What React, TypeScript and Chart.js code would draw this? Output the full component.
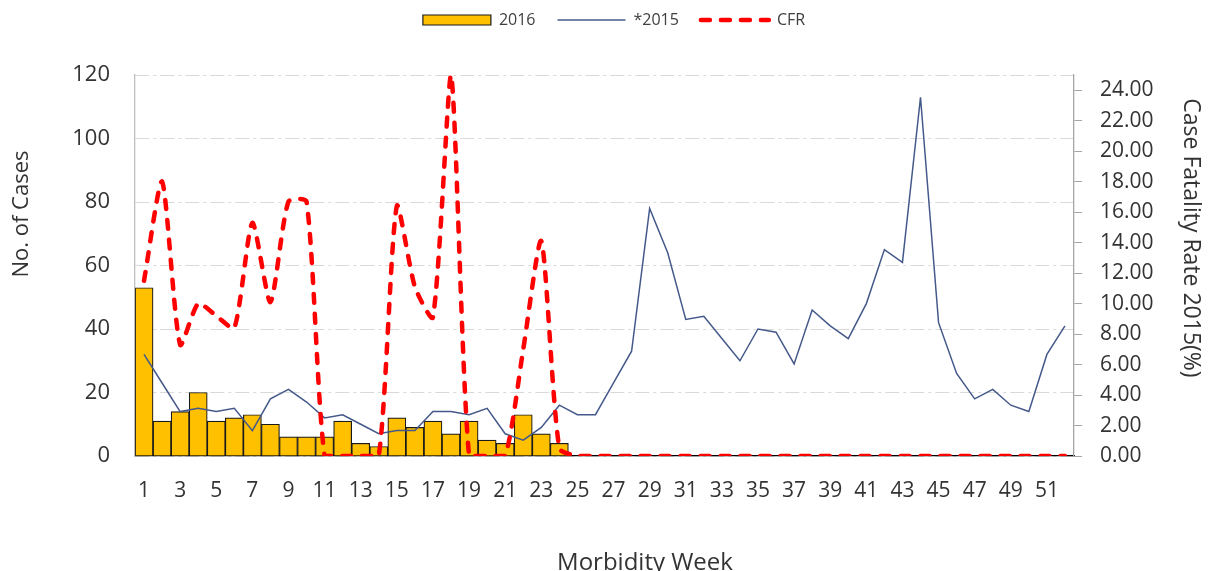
import React, { useEffect, useRef } from 'react';
import { Chart, registerables } from 'chart.js';

Chart.register(...registerables);

const weeks = ['1','2','3','4','5','6','7','8','9','10','11','12','13','14','15','16','17','18','19','20','21','22','23','24','25','26','27','28','29','30','31','32','33','34','35','36','37','38','39','40','41','42','43','44','45','46','47','48','49','50','51','52'];

const cases2016 = [53, 11, 14, 20, 11, 12, 13, 10, 6, 6, 6, 11, 4, 3, 12, 9, 11, 7, 11, 5, 4, 13, 7, 4,
  null, null, null, null, null, null, null, null, null, null, null, null, null, null, null, null, null, null, null, null, null, null, null, null, null, null, null, null];

const cases2015 = [32, 23, 14, 15, 14, 15, 8, 18, 21, 17, 12, 13, 10, 7, 8, 8, 14, 14, 13, 15, 7, 5, 9, 16, 13, 13,
  23, 33, 78, 64, 43, 44, 37, 30, 40, 39, 29, 46, 41, 37, 48, 65, 61, 113, 42, 26, 18, 21, 16, 14, 32, 41];

const cfr = [11.5, 18, 7.3, 10, 9.2, 8.4, 15.3, 10.1, 16.7, 16.7, 0, 0, 0, 0, 16.4, 11.1, 9.1, 25, 0, 0, 0, 7, 14.1, 0.5,
  0, 0, 0, 0, 0, 0, 0, 0, 0, 0, 0, 0, 0, 0, 0, 0, 0, 0, 0, 0, 0, 0, 0, 0, 0, 0, 0, 0];

const seriesNames = ['2016', '*2015', 'CFR'];
const leftTitle = 'No. of Cases';
const rightTitle = 'Case Fatality Rate 2015(%)';
const bottomTitle = 'Morbidity Week';

const FONT = '"Open Sans", "Noto Sans", sans-serif';
const TEXT = '#333333';
const CFR_DASH = [9, 11];

const titlesPlugin = {
  id: 'customAxisTitles',
  afterDraw(chart: any) {
    const { ctx } = chart;
    ctx.save();
    ctx.fillStyle = TEXT;
    ctx.textAlign = 'center';
    ctx.textBaseline = 'middle';
    ctx.font = `22px ${FONT}`;
    ctx.save();
    ctx.translate(22, 214);
    ctx.rotate(-Math.PI / 2);
    ctx.fillText(leftTitle, 0, 0);
    ctx.restore();
    ctx.font = `23px ${FONT}`;
    ctx.save();
    ctx.translate(1191, 238);
    ctx.rotate(Math.PI / 2);
    ctx.fillText(rightTitle, 0, 0);
    ctx.restore();
    ctx.font = `24px ${FONT}`;
    ctx.fillText(bottomTitle, 645, 563);
    ctx.restore();
  },
};

export default function App() {
  const ref = useRef<HTMLCanvasElement | null>(null);

  useEffect(() => {
    if (!ref.current) return;
    const chart = new Chart(ref.current, {
      type: 'bar',
      data: {
        labels: weeks,
        datasets: [
          {
            type: 'bar',
            label: seriesNames[0],
            data: cases2016 as any,
            backgroundColor: '#FFC000',
            borderColor: '#1a1a1a',
            borderWidth: 1.2,
            barPercentage: 1,
            categoryPercentage: 1,
            yAxisID: 'y',
            order: 3,
          },
          {
            type: 'line',
            label: seriesNames[1],
            data: cases2015,
            borderColor: '#44598a',
            backgroundColor: '#44598a',
            borderWidth: 1.5,
            pointRadius: 0,
            tension: 0,
            yAxisID: 'y',
            order: 2,
          },
          {
            type: 'line',
            label: seriesNames[2],
            data: cfr,
            borderColor: '#FF0000',
            backgroundColor: '#FF0000',
            borderWidth: 4.5,
            borderDash: CFR_DASH,
            borderCapStyle: 'round',
            pointRadius: 0,
            tension: 0.22,
            yAxisID: 'y1',
            order: 1,
          },
        ] as any,
      },
      options: {
        responsive: false,
        animation: false,
        layout: { padding: { top: -10, left: 18, right: 0, bottom: 0 } },
        plugins: {
          tooltip: { enabled: false },
          legend: {
            position: 'top',
            labels: {
              usePointStyle: true,
              pointStyleWidth: 68,
              boxWidth: 68,
              boxHeight: 10,
              padding: 22,
              color: '#404040',
              font: { family: FONT, size: 16 },
              sort: (a: any, b: any) => a.datasetIndex - b.datasetIndex,
              generateLabels: (c: any) => {
                const items = Chart.defaults.plugins.legend.labels.generateLabels(c);
                return items.map((it: any) => {
                  if (it.datasetIndex === 0) {
                    return { ...it, pointStyle: 'rect', fillStyle: '#FFC000', strokeStyle: '#1a1a1a', lineWidth: 1.2, lineDash: [] };
                  }
                  if (it.datasetIndex === 1) {
                    return { ...it, pointStyle: 'line', strokeStyle: '#44598a', lineWidth: 1.5, lineDash: [] };
                  }
                  return { ...it, pointStyle: 'line', strokeStyle: '#FF0000', lineWidth: 4.5, lineDash: CFR_DASH, lineCap: 'round' };
                });
              },
            },
          },
        },
        scales: {
          x: {
            type: 'category',
            offset: true,
            grid: { display: false, drawTicks: false },
            border: { display: true, color: '#000000', width: 1.3 },
            ticks: {
              autoSkip: false,
              maxRotation: 0,
              minRotation: 0,
              padding: 22,
              color: TEXT,
              font: { family: FONT, size: 21 },
              callback: (_v: any, i: number) => (i % 2 === 0 ? weeks[i] : ''),
            },
            afterFit: (s: any) => { s.height = 115; },
          },
          xTop: {
            type: 'linear',
            position: 'top',
            display: true,
            grid: { display: false, drawTicks: false },
            border: { display: false },
            ticks: { display: false },
            afterFit: (s: any) => { s.height = 37; },
          },
          y: {
            type: 'linear',
            position: 'left',
            min: 0,
            max: 120,
            ticks: {
              stepSize: 20,
              padding: 25,
              color: TEXT,
              font: { family: FONT, size: 22 },
            },
            grid: { color: '#d9d9d9', lineWidth: 1, drawTicks: false },
            border: { display: true, color: '#bfbfbf', width: 1.3, dash: [14, 4, 3, 4] },
            afterFit: (s: any) => { s.width = 117; },
          },
          y1: {
            type: 'linear',
            position: 'right',
            min: 0,
            max: 25,
            ticks: {
              stepSize: 2,
              includeBounds: false,
              padding: 18,
              color: TEXT,
              font: { family: FONT, size: 21 },
              callback: (v: any) => Number(v).toFixed(2),
            },
            grid: { drawOnChartArea: false, drawTicks: true, tickLength: 8, color: '#a6a6a6' },
            border: { display: true, color: '#a6a6a6', width: 1.3 },
            afterFit: (s: any) => { s.width = 136; },
          },
        },
      } as any,
      plugins: [titlesPlugin],
    });
    return () => chart.destroy();
  }, []);

  return (
    <div style={{ position: 'absolute', left: 0, top: 0, width: 1210, height: 571, background: '#ffffff' }}>
      <canvas ref={ref} width={1210} height={571} style={{ display: 'block', width: 1210, height: 571 }} />
    </div>
  );
}
